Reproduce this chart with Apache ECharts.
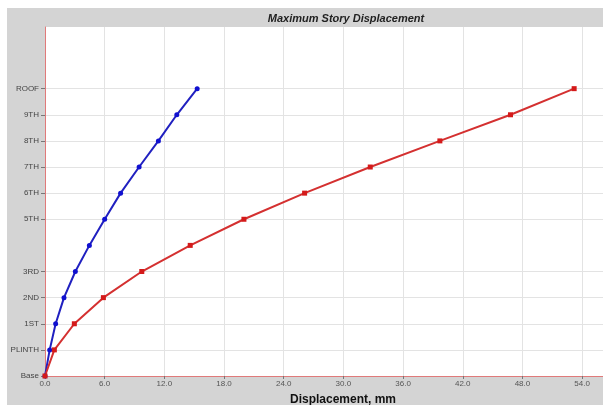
<!DOCTYPE html>
<html>
<head>
<meta charset="utf-8">
<script src="https://cdn.jsdelivr.net/npm/echarts@6/dist/echarts.min.js"></script>
<style>
  body { margin: 0; background: #fff; }
  #main { position: absolute; left: 7px; top: 8px; width: 596px; height: 397px; background: #d4d4d4; }
</style>
</head>
<body>
<div id="main"></div>
<script>
// 楼层标签 (0 = Base ... 11 = ROOF)
var storyLabels = ['Base', 'PLINTH', '1ST', '2ND', '3RD', '4TH', '5TH', '6TH', '7TH', '8TH', '9TH', 'ROOF'];
// 有标签/网格线的楼层 (4TH 没有)
var shownLevels = [0, 1, 2, 3, 4, 6, 7, 8, 9, 10, 11];
var xTicks = [0, 6, 12, 18, 24, 30, 36, 42, 48, 54];
// 位移, mm
var blueDisp = [0.0, 0.47, 1.07, 1.91, 3.05, 4.46, 6.0, 7.6, 9.46, 11.4, 13.25, 15.3];
var redDisp = [0.0, 0.94, 2.95, 5.87, 9.73, 14.6, 20.0, 26.1, 32.7, 39.7, 46.8, 53.2];

function pairs(disp) {
  return disp.map(function (v, i) { return [v, i]; });
}

var myChart = echarts.init(document.getElementById('main'));

var option = {
  animation: false,
  textStyle: { fontFamily: 'Liberation Sans' },
  title: {
    text: 'Maximum Story Displacement',
    left: 334,
    top: 0,
    textAlign: 'center',
    textStyle: { fontSize: 11, fontWeight: 'bold', fontStyle: 'italic', color: '#222', fontFamily: 'Liberation Sans' }
  },
  grid: {
    left: 38,
    top: 19,
    right: 0,
    bottom: 29,
    outerBoundsMode: 'none',
    show: true,
    backgroundColor: '#fff',
    borderWidth: 0
  },
  xAxis: {
    type: 'value',
    min: 0,
    max: 56.1,
    interval: 6,
    name: 'Displacement, mm',
    nameLocation: 'middle',
    nameGap: 18,
    nameTextStyle: { fontSize: 12, fontWeight: 'bold', color: '#111', padding: [0, 0, 0, 38] },
    axisLine: { lineStyle: { color: '#e07a7a', width: 1 } },
    axisTick: { show: true, length: 3, lineStyle: { color: '#777' }, customValues: xTicks },
    axisLabel: {
      customValues: xTicks,
      color: '#555',
      fontSize: 8,
      margin: 4,
      formatter: function (v) { return v.toFixed(1); }
    },
    splitLine: { show: true, lineStyle: { color: '#e3e3e3' } }
  },
  yAxis: {
    type: 'value',
    min: 0,
    max: 13.36,
    interval: 1,
    axisLine: { show: true, lineStyle: { color: '#e07a7a', width: 1 } },
    axisTick: { show: true, length: 4, lineStyle: { color: '#777' }, customValues: shownLevels },
    axisLabel: {
      customValues: shownLevels,
      color: '#444',
      fontSize: 8,
      margin: 6,
      formatter: function (v) { return storyLabels[Math.round(v)] || ''; }
    },
    splitLine: { show: true, lineStyle: { color: '#e3e3e3' } }
  },
  series: [
    {
      type: 'line',
      name: 'X',
      data: pairs(blueDisp),
      symbol: 'circle',
      symbolSize: 5,
      lineStyle: { color: '#2020c0', width: 2 },
      itemStyle: { color: '#1010d0' }
    },
    {
      type: 'line',
      name: 'Y',
      data: pairs(redDisp),
      symbol: 'rect',
      symbolSize: 5,
      lineStyle: { color: '#d43030', width: 2 },
      itemStyle: { color: '#d41a1a' }
    }
  ]
};

myChart.setOption(option);
</script>
</body>
</html>
